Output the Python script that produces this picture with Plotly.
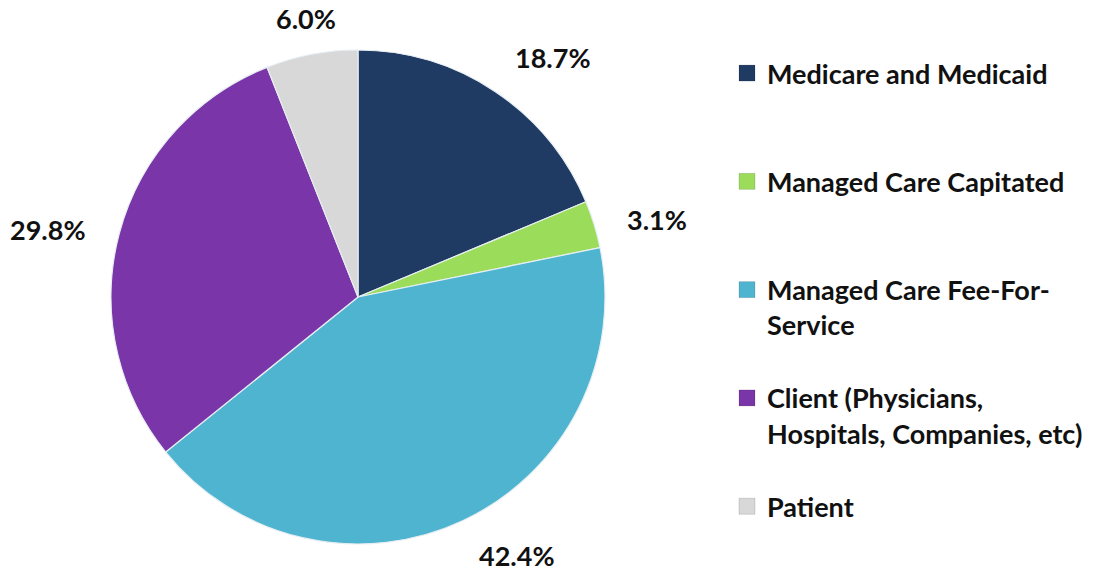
import math
import plotly.graph_objects as go

categories = [
    "Medicare and Medicaid",
    "Managed Care Capitated",
    "Managed Care Fee-For-<br>Service",
    "Client (Physicians,<br>Hospitals, Companies, etc)",
    "Patient",
]
values = [18.7, 3.1, 42.4, 29.8, 6.0]
colors = ["#1f3b63", "#9bdc5b", "#4fb4d0", "#7a35a8", "#d8d8d8"]

W, H = 1111, 570
OFF = 8  # page body margin offset
CX, CY, R = 358 - OFF, 297 - OFF, 247  # pie centre / radius in figure pixels
FONT = "Lato"
FS = 27
LINES_PER_ITEM = 3

def pad(label, last):
    if last:
        return label
    n = label.count("<br>") + 1
    return label + "<br>&nbsp;" * (LINES_PER_ITEM - n)

legend_labels = [pad(c, i == len(categories) - 1) for i, c in enumerate(categories)]

fig = go.Figure()
fig.add_trace(
    go.Pie(
        labels=categories,
        values=values,
        sort=False,
        direction="clockwise",
        rotation=0,
        textinfo="none",
        hoverinfo="label+percent",
        showlegend=False,
        marker=dict(colors=colors, line=dict(color="#e6eef2", width=1.2)),
        domain=dict(x=[(CX - R) / W, (CX + R) / W], y=[1 - (CY + R) / H, 1 - (CY - R) / H]),
    )
)

# legend entries (square swatches) for each category
for lab, col in zip(legend_labels, colors):
    fig.add_trace(
        go.Scatter(
            x=[None], y=[None], mode="markers", name=lab,
            marker=dict(symbol="square", size=16, color=col,
                        line=dict(color="rgba(0,0,0,0.25)", width=0.5)),
            hoverinfo="skip",
        )
    )

# percentage labels placed outside each slice, at the slice's mid-angle
total = sum(values)
cum = 0.0
gx, gy = 32, 18
for v in values:
    mid = (cum + v / 2) / total * 2 * math.pi
    cum += v
    s, c = math.sin(mid), math.cos(mid)
    px = CX + (R + gx) * s
    py = CY - (R + gy) * c
    xa = "left" if s > 0.3 else ("right" if s < -0.3 else "center")
    ya = "bottom" if c > 0.3 else ("top" if c < -0.3 else "middle")
    fig.add_annotation(
        x=px / W, y=1 - py / H, xref="paper", yref="paper",
        text=f"{v:.1f}%", showarrow=False, xanchor=xa, yanchor=ya,
        font=dict(family=FONT, size=FS, color="#111111", weight="bold"),
    )

fig.update_layout(
    width=W, height=H,
    margin=dict(l=0, r=0, t=0, b=0),
    paper_bgcolor="white",
    plot_bgcolor="white",
    showlegend=True,
    xaxis=dict(visible=False),
    yaxis=dict(visible=False),
    legend=dict(
        x=719 / W, y=1 - 41 / H, xanchor="left", yanchor="top",
        font=dict(family=FONT, size=FS, color="#111111", weight="bold"),
        valign="top",
        bgcolor="rgba(0,0,0,0)",
    ),
)

fig.write_html("out.html")
